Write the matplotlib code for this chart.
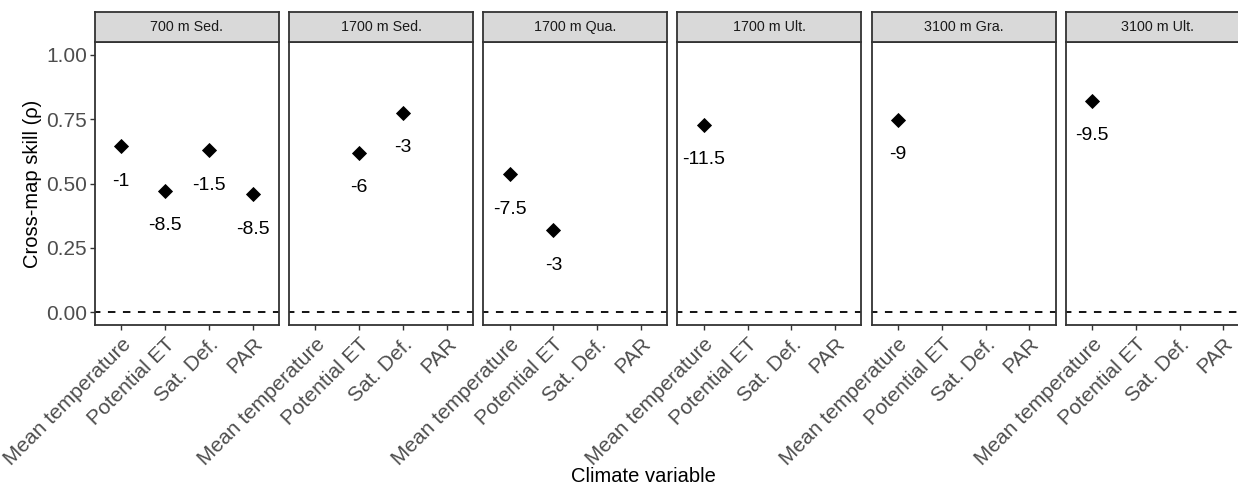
import matplotlib
matplotlib.use("Agg")
import matplotlib.pyplot as plt

plt.rcParams['font.family'] = ['Liberation Sans', 'DejaVu Sans']
plt.rcParams['lines.scale_dashes'] = False

# ---- data ----
sites = ["700 m Sed.", "1700 m Sed.", "1700 m Qua.", "1700 m Ult.", "3100 m Gra.", "3100 m Ult."]
variables = ["Mean temperature", "Potential ET", "Sat. Def.", "PAR"]

point_site = ["700 m Sed.", "700 m Sed.", "700 m Sed.", "700 m Sed.",
              "1700 m Sed.", "1700 m Sed.",
              "1700 m Qua.", "1700 m Qua.",
              "1700 m Ult.", "3100 m Gra.", "3100 m Ult."]
point_var = ["Mean temperature", "Potential ET", "Sat. Def.", "PAR",
             "Potential ET", "Sat. Def.",
             "Mean temperature", "Potential ET",
             "Mean temperature", "Mean temperature", "Mean temperature"]
point_rho = [0.646, 0.472, 0.629, 0.459,
             0.620, 0.775,
             0.536, 0.320,
             0.729, 0.748, 0.822]
point_lag = [-1, -8.5, -1.5, -8.5,
             -6, -3,
             -7.5, -3,
             -11.5, -9, -9.5]

y_ticks = [0.0, 0.25, 0.50, 0.75, 1.00]
y_ticklabels = ["0.00", "0.25", "0.50", "0.75", "1.00"]

# ---- layout (pixels) ----
W, H = 1238, 488
fig = plt.figure(figsize=(W / 100, H / 100), dpi=100)

panel_left0 = 95.0
panel_step = 194.15
panel_w = 184.0
panel_top = 42.0
panel_bot = 325.0
strip_top = 12.0

grey_dark = "#333333"
tick_grey = "#4D4D4D"

def fx(px):
    return px / W

def fy(py):
    return 1 - py / H

label_nudge = -0.137

for i, site in enumerate(sites):
    x0 = panel_left0 + i * panel_step
    ax = fig.add_axes([fx(x0), fy(panel_bot), fx(panel_w), (panel_bot - panel_top) / H])
    ax.set_xlim(0.4, 4.6)
    ax.set_ylim(-0.05, 1.05)
    ax.axhline(0, color="black", lw=1.3, linestyle=(1.5, (5.4, 5.4)), zorder=1)

    for s, v, r, lag in zip(point_site, point_var, point_rho, point_lag):
        if s != site:
            continue
        xi = variables.index(v) + 1
        ax.plot([xi], [r], marker="D", color="black", ms=7.5, mec="black", mew=0.6, zorder=3)
        ax.text(xi, r + label_nudge, f"{lag:g}", ha="center", va="center",
                fontsize=14, color="black", zorder=4)

    ax.set_xticks(range(1, len(variables) + 1))
    ax.set_xticklabels(variables, rotation=45, ha="right", va="top",
                       rotation_mode="anchor", fontsize=15, color=tick_grey)
    ax.tick_params(axis="x", length=3.8, width=1.0, color=grey_dark, pad=3)
    if i == 0:
        ax.set_yticks(y_ticks)
        ax.set_yticklabels(y_ticklabels, fontsize=15, color=tick_grey)
        ax.tick_params(axis="y", length=3.8, width=1.0, color=grey_dark, pad=2)
    else:
        ax.set_yticks([])
    for sp in ax.spines.values():
        sp.set_color(grey_dark)
        sp.set_linewidth(1.3)

    # strip
    sax = fig.add_axes([fx(x0), fy(panel_top), fx(panel_w), (panel_top - strip_top) / H])
    sax.set_facecolor("#D9D9D9")
    sax.set_xticks([])
    sax.set_yticks([])
    for sp in sax.spines.values():
        sp.set_color(grey_dark)
        sp.set_linewidth(1.3)
    sax.text(0.5, 0.5, site, ha="center", va="center", fontsize=10.3,
             color="#1A1A1A", transform=sax.transAxes)

fig.text(fx(33), fy((panel_top + panel_bot) / 2), "Cross-map skill (\u03c1)",
         rotation=90, ha="center", va="center", fontsize=14.5, color="black")
fig.text(fx(643.5), fy(477), "Climate variable", ha="center", va="center",
         fontsize=14.5, color="black")

fig.savefig("out.png", dpi=100)
